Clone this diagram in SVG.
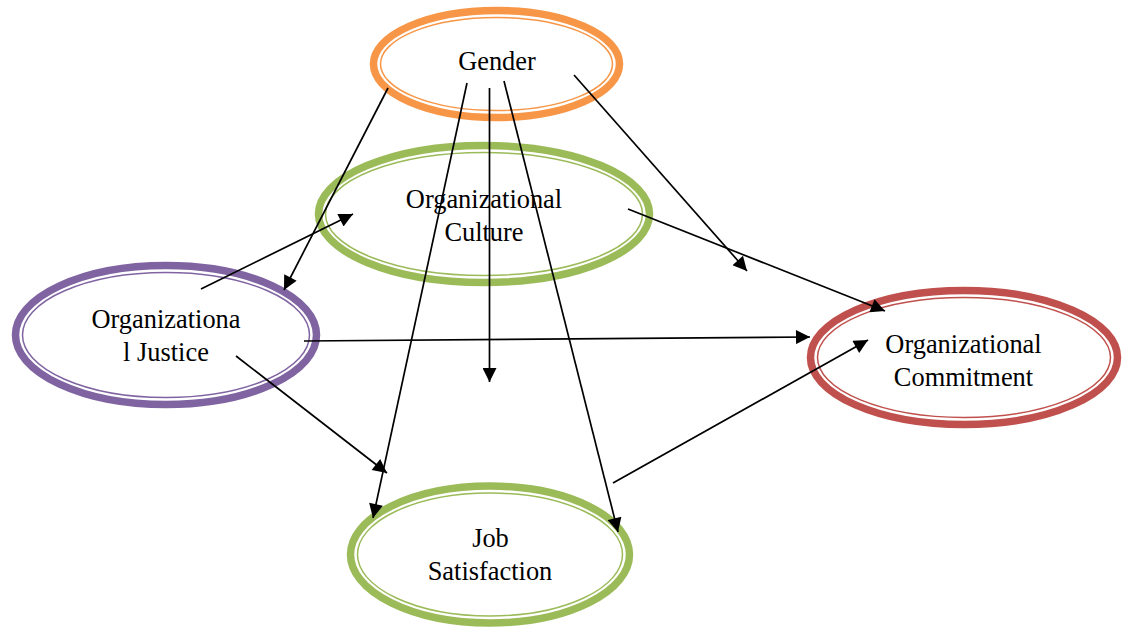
<svg xmlns="http://www.w3.org/2000/svg" width="1125" height="632" viewBox="0 0 1125 632">
<defs>
<style>
.thick{fill:#ffffff;stroke-width:7.5}
.thin{fill:none;stroke-width:1.5}
.lbl{font-family:"Liberation Serif","Times New Roman",serif;font-size:26.4px;fill:#000;text-anchor:middle}
.conn line{stroke:#000;stroke-width:1.7;marker-end:url(#ah)}
.orange{stroke:#F79646}
.green{stroke:#9BBB59}
.purple{stroke:#8064A2}
.red{stroke:#C0504D}
</style>
<marker id="ah" viewBox="0 0 10 10" refX="10" refY="5" markerUnits="userSpaceOnUse" markerWidth="16" markerHeight="14" orient="auto">
<path d="M0,0 L10,5 L0,10 Z" fill="#000"/>
</marker>
</defs>
<rect width="1125" height="632" fill="#ffffff"/>
<g id="gender">
<ellipse class="thick orange" cx="496.5" cy="64" rx="123" ry="53.5"/>
<ellipse class="thin orange" cx="496.5" cy="64" rx="116" ry="46.5"/>
<text class="lbl" x="497" y="70">Gender</text>
</g>
<g id="culture">
<ellipse class="thick green" cx="484" cy="214" rx="165.5" ry="68.5"/>
<ellipse class="thin green" cx="484" cy="214" rx="158.5" ry="61.5"/>
<text class="lbl" x="484" y="208">Organizational</text>
<text class="lbl" x="484" y="241">Culture</text>
</g>
<g id="justice">
<ellipse class="thick purple" cx="166" cy="335" rx="150.5" ry="69.5"/>
<ellipse class="thin purple" cx="166" cy="335" rx="143.5" ry="62.5"/>
<text class="lbl" x="166" y="328">Organizationa</text>
<text class="lbl" x="166" y="361">l Justice</text>
</g>
<g id="commitment">
<ellipse class="thick red" cx="964" cy="357.5" rx="153.5" ry="67"/>
<ellipse class="thin red" cx="964" cy="357.5" rx="146.5" ry="60"/>
<text class="lbl" x="963.5" y="353">Organizational</text>
<text class="lbl" x="963.5" y="386">Commitment</text>
</g>
<g id="job">
<ellipse class="thick green" cx="490" cy="554.5" rx="139.5" ry="68.5"/>
<ellipse class="thin green" cx="490" cy="554.5" rx="132.5" ry="61.5"/>
<text class="lbl" x="490.5" y="547">Job</text>
<text class="lbl" x="490" y="580">Satisfaction</text>
</g>
<g id="connectors" class="conn">
<line x1="388" y1="88" x2="284" y2="290"/>
<line x1="467" y1="83" x2="373" y2="518"/>
<line x1="489.5" y1="88" x2="489.5" y2="382"/>
<line x1="504" y1="81" x2="618" y2="532"/>
<line x1="574" y1="75" x2="747" y2="271"/>
<line x1="201" y1="289" x2="353" y2="214"/>
<line x1="304" y1="341" x2="810" y2="337"/>
<line x1="236" y1="356" x2="387" y2="473"/>
<line x1="628" y1="209" x2="885" y2="311"/>
<line x1="613" y1="483" x2="868" y2="340"/>
</g>
</svg>
